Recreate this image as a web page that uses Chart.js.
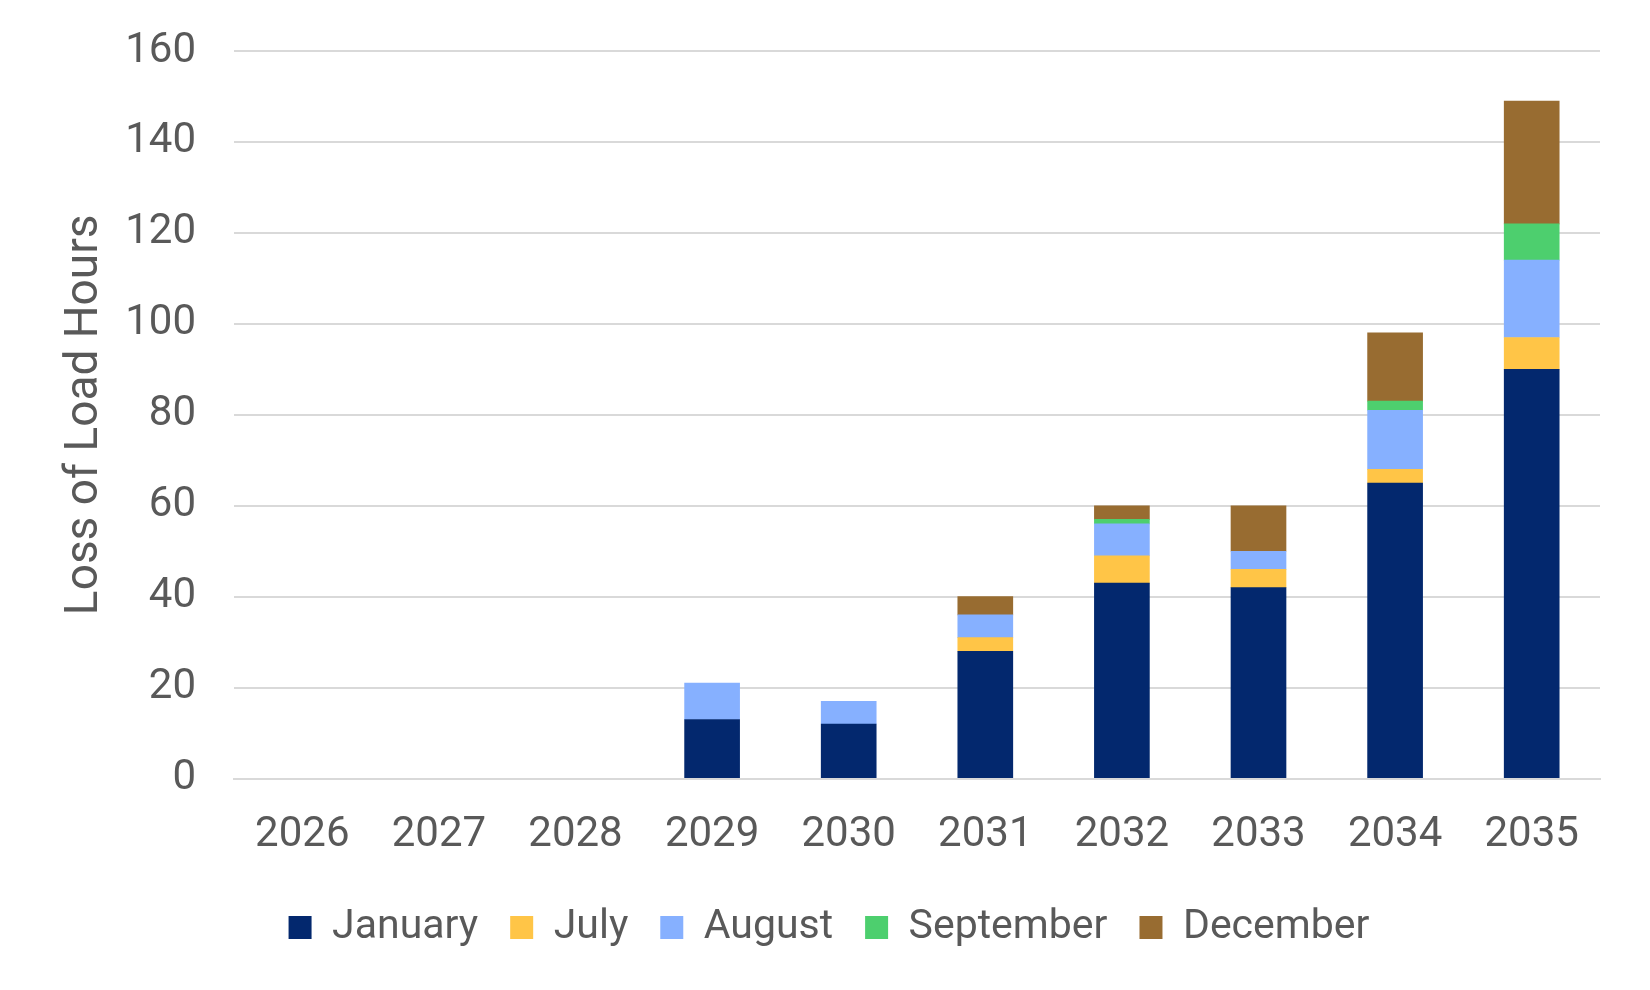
<!DOCTYPE html>
<html>
<head>
<meta charset="utf-8">
<script src="https://cdn.jsdelivr.net/npm/chart.js@4"></script>
<style>
  html, body { margin: 0; padding: 0; background: #ffffff; }
  #wrap { width: 1650px; height: 990px; position: relative; }
</style>
</head>
<body>
<div id="wrap"><canvas id="c" width="1650" height="990"></canvas></div>
<script>
const categories = ["2026", "2027", "2028", "2029", "2030", "2031", "2032", "2033", "2034", "2035"];
const january   = [0, 0, 0, 13, 12, 28, 43, 42, 65, 90];
const july      = [0, 0, 0, 0, 0, 3, 6, 4, 3, 7];
const august    = [0, 0, 0, 8, 5, 5, 7, 4, 13, 17];
const september = [0, 0, 0, 0, 0, 0, 1, 0, 2, 8];
const december  = [0, 0, 0, 0, 0, 4, 3, 10, 15, 27];
const seriesNames = ["January", "July", "August", "September", "December"];
const yTicks = [0, 20, 40, 60, 80, 100, 120, 140, 160];
const yTitle = "Loss of Load Hours";

const colors = ["#03286E", "#FFC547", "#86B0FF", "#4DCF6E", "#986C31"];
const seriesValues = [january, july, august, september, december];
const TXT = "#595959";

const datasets = seriesNames.map((name, i) => ({
  label: name,
  data: seriesValues[i],
  backgroundColor: (ctx) => (ctx.type === "data" && ctx.raw === 0) ? "rgba(0,0,0,0)" : colors[i],
  borderWidth: 0,
  barThickness: 55,
  stack: "s"
}));

new Chart(document.getElementById("c"), {
  type: "bar",
  data: { labels: categories, datasets },
  options: {
    responsive: false,
    animation: false,
    devicePixelRatio: 1,
    layout: { padding: { top: 51, right: 50, bottom: 32, left: 58 } },
    plugins: {
      tooltip: { enabled: false },
      legend: {
        position: "bottom",
        labels: {
          boxWidth: 23,
          boxHeight: 23,
          padding: 32,
          color: TXT,
          font: { family: "Roboto", size: 41 },
          generateLabels: (chart) => chart.data.datasets.map((ds, i) => ({
            text: ds.label,
            fillStyle: colors[i],
            strokeStyle: colors[i],
            lineWidth: 0,
            fontColor: TXT,
            hidden: false,
            datasetIndex: i
          }))
        }
      }
    },
    scales: {
      x: {
        stacked: true,
        grid: { display: false, drawTicks: false },
        border: { display: true, color: "#d9d9d9", width: 2 },
        ticks: { color: TXT, padding: 32, font: { family: "Roboto", size: 42 } },
        afterFit: (axis) => { axis.height -= 18; }
      },
      y: {
        stacked: true,
        min: yTicks[0],
        max: yTicks[yTicks.length - 1],
        afterBuildTicks: (axis) => { axis.ticks = yTicks.map(v => ({ value: v })); },
        afterFit: (axis) => { axis.width = 176; axis.paddingTop = 0; axis.paddingBottom = 0; },
        grid: { color: "#d9d9d9", lineWidth: 2, drawTicks: false },
        border: { display: false },
        ticks: { color: TXT, padding: 38, font: { family: "Roboto", size: 42 } },
        title: {
          display: true,
          text: yTitle,
          color: TXT,
          padding: { top: 0, bottom: 0 },
          font: { family: "Roboto", size: 46 }
        }
      }
    }
  }
});
</script>
</body>
</html>
